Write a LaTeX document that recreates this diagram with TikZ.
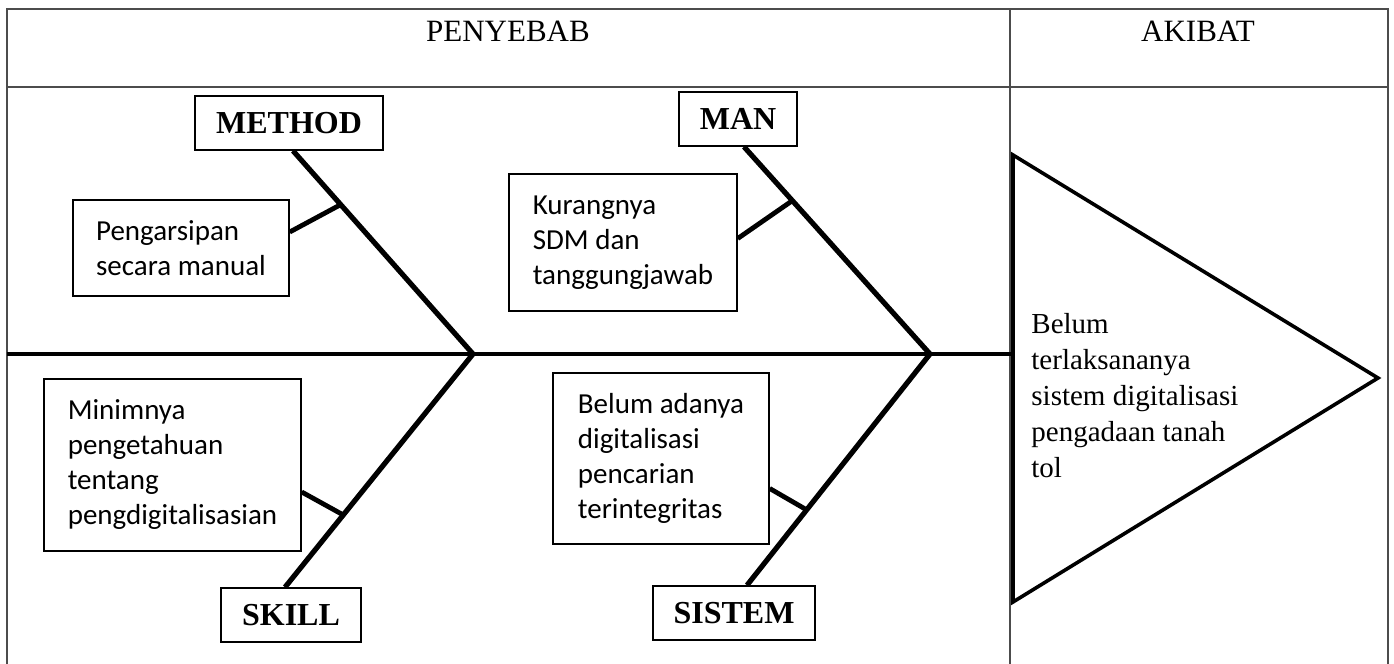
\documentclass[tikz,border=0pt]{standalone}
\usepackage{fontspec}
\setmainfont{Liberation Serif}
\newfontfamily\calibri{Carlito}
\usetikzlibrary{calc,positioning}

\begin{document}
\begin{tikzpicture}[x=0.5pt,y=-0.5pt,
	grid/.style={draw=black!70, line width=0.8pt},
	head/.style={anchor=base, font=\fontsize{15.5}{18}\selectfont},
	cat/.style={draw, line width=0.75pt, inner sep=0pt, font=\fontsize{16}{19}\selectfont\bfseries},
	cause/.style={draw, line width=0.75pt, inner sep=0pt, align=left, font=\calibri\fontsize{14.5}{17.5}\selectfont},
	bone/.style={line width=2.6pt},
	twig/.style={line width=2.4pt}]
	\useasboundingbox (0,0) rectangle (1394,664);
	\draw[grid] (7,664) -- (7,9) -- (1388,9) -- (1388,664);
	\draw[grid] (7,87) -- (1388,87);
	\draw[grid] (1010,9) -- (1010,664);
	\node[head] (penyebab) at (508,41) {PENYEBAB};
	\node[head] (akibat) at (1198,41) {AKIBAT};

	\coordinate (tail) at (7,354);
	\coordinate (j1) at (473,354);
	\coordinate (j2) at (930,354);
	\coordinate (mouth) at (1013,354);
	\draw[line width=2pt] (tail) -- (mouth);
	\draw[line width=1.8pt, line join=miter] (1013,155) -- (1378,378) -- (1013,602) -- cycle;
	\node[anchor=north west, inner sep=0pt, align=left, font=\fontsize{14.5}{18}\selectfont] (effect) at (1031,313)
		{Belum\\terlaksananya\\sistem digitalisasi\\pengadaan tanah\\tol};

	\node[cat, minimum width=94pt, minimum height=27pt] (method) at (289,123) {METHOD};
	\node[cat, minimum width=59pt, minimum height=27pt] (man) at (738,119) {MAN};
	\node[cat, minimum width=70pt, minimum height=27pt] (skill) at (291,615) {SKILL};
	\node[cat, minimum width=81pt, minimum height=27pt] (sistem) at (734,613) {SISTEM};

	\node[cause, minimum width=108pt, minimum height=48pt] (arsip) at (181,248) {Pengarsipan\\secara manual};
	\node[cause, minimum width=114pt, minimum height=68.5pt] (sdm) at (623,242.5) {Kurangnya\\SDM dan\\tanggungjawab};
	\node[cause, minimum width=128.5pt, minimum height=86pt] (tahu) at (172.5,465) {Minimnya\\pengetahuan\\tentang\\pengdigitalisasian};
	\node[cause, minimum width=108pt, minimum height=85.5pt] (cari) at (661,458.5) {Belum adanya\\digitalisasi\\pencarian\\terintegritas};

	\draw[bone] ([xshift=2pt]method.south) -- (j1);
	\draw[bone] ([xshift=3pt]man.south) -- (j2);
	\draw[bone] ([xshift=-3pt]skill.north) -- (j1);
	\draw[bone] ([xshift=6.5pt]sistem.north) -- (j2);

	\draw[twig] ([yshift=8pt]arsip.east) -- ($([xshift=2pt]method.south)!0.265!(j1)$);
	\draw[twig] ([yshift=2pt]sdm.east) -- ($([xshift=3pt]man.south)!0.26!(j2)$);
	\draw[twig] ([yshift=-13.5pt]tahu.east) -- ($(j1)!0.69!([xshift=-3pt]skill.north)$);
	\draw[twig] ([yshift=-15pt]cari.east) -- ($(j2)!0.674!([xshift=6.5pt]sistem.north)$);
\end{tikzpicture}
\end{document}
